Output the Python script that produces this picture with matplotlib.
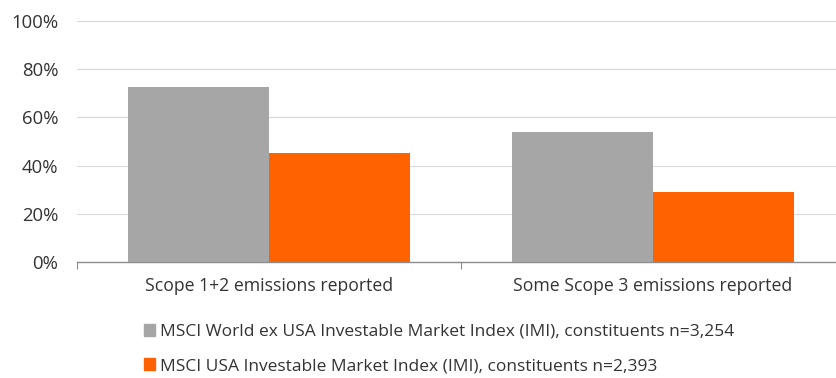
import numpy as np
import matplotlib.pyplot as plt
from matplotlib.patches import Patch
from matplotlib.ticker import PercentFormatter

# data (share of constituents, %)
categories = ["Scope 1+2 emissions reported", "Some Scope 3 emissions reported"]
world_ex_usa = [72.7, 53.9]
usa = [45.1, 29.0]
series_names = [
    "MSCI World ex USA Investable Market Index (IMI), constituents n=3,254",
    "MSCI USA Investable Market Index (IMI), constituents n=2,393",
]
y_ticks = [0, 20, 40, 60, 80, 100]

GREY = "#a6a6a6"
ORANGE = "#ff6200"
TEXT = "#333333"
FS = 12.7

plt.rcParams["font.family"] = ["Open Sans", "DejaVu Sans"]

W, H = 837, 378
fig = plt.figure(figsize=(W / 100, H / 100), dpi=100)
# axes runs a bit past the right edge like in the original
ax = fig.add_axes([77 / W, 1 - 262 / H, 768 / W, 241 / H])

x = np.arange(len(categories))
bw = 0.367
ax.bar(x - bw, world_ex_usa, width=bw, align="edge", color=GREY, zorder=3)
ax.bar(x, usa, width=bw, align="edge", color=ORANGE, zorder=3)

ax.set_xlim(-0.5, 1.5)
ax.set_ylim(0, 100)
ax.set_yticks(y_ticks)
ax.yaxis.set_major_formatter(PercentFormatter(decimals=0))
ax.grid(axis="y", color="#d9d9d9", linewidth=0.8, zorder=0)

for s in ["top", "right", "left"]:
    ax.spines[s].set_visible(False)
ax.spines["bottom"].set_color("#8c8c8c")
ax.spines["bottom"].set_linewidth(1.0)

ax.tick_params(axis="y", length=0, pad=13.5, labelsize=13.3, labelcolor=TEXT)
# category labels in the middle, tick marks on the boundaries
ax.set_xticks([-0.5, 0.5, 1.5])
ax.set_xticklabels([])
ax.tick_params(axis="x", length=5, color="#8c8c8c")
ax.set_xticks(x, minor=True)
ax.set_xticklabels(categories, minor=True)
ax.tick_params(axis="x", which="minor", length=0, pad=10.5, labelsize=FS, labelcolor=TEXT)

handles = [Patch(color=GREY), Patch(color=ORANGE)]
fig.legend(handles, series_names, loc="upper left",
           bbox_to_anchor=(137 / W, 1 - 317 / H), frameon=False,
           handlelength=0.65, handleheight=0.65, handletextpad=0.3,
           labelspacing=1.06, fontsize=12.5, labelcolor=TEXT, borderaxespad=0)

fig.savefig("out.png", dpi=100)
